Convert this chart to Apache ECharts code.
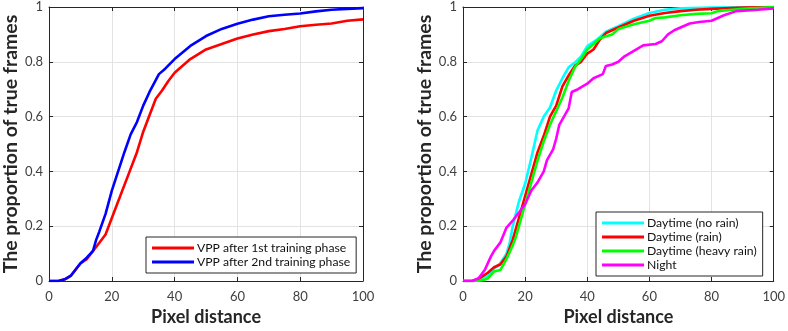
<!DOCTYPE html>
<html>
<head>
<meta charset="utf-8">
<script src="https://cdn.jsdelivr.net/npm/echarts@6/dist/echarts.min.js"></script>
<style>
html,body{margin:0;padding:0;background:#fff;}
#c{width:788px;height:331px;}
</style>
</head>
<body>
<div id="c"></div>
<script>
// ---- Data ----
const xTicks = [0, 20, 40, 60, 80, 100];
const yTicks = [0, 0.2, 0.4, 0.6, 0.8, 1];

const leftNames = ['VPP after 1st training phase', 'VPP after 2nd training phase'];
const rightNames = ['Daytime (no rain)', 'Daytime (rain)', 'Daytime (heavy rain)', 'Night'];

const vpp1 = [[0,0],[3,0],[5,0.006],[7,0.02],[10,0.064],[12,0.08],[15,0.124],[18,0.17],[20,0.23],[22,0.29],[25,0.38],[28,0.47],[30,0.545],[32,0.605],[34,0.665],[36,0.695],[38,0.73],[40,0.76],[45,0.81],[50,0.845],[55,0.865],[60,0.885],[65,0.9],[70,0.912],[75,0.92],[80,0.93],[85,0.935],[90,0.94],[95,0.95],[100,0.955]];
const vpp2 = [[0,0],[3,0],[5,0.006],[7,0.02],[10,0.065],[12,0.085],[14,0.11],[15,0.15],[16,0.18],[18,0.245],[20,0.33],[22,0.4],[24,0.47],[26,0.535],[28,0.58],[30,0.64],[32,0.69],[35,0.755],[37,0.775],[40,0.81],[45,0.858],[50,0.894],[55,0.92],[60,0.939],[65,0.954],[70,0.966],[75,0.972],[80,0.976],[85,0.984],[90,0.99],[95,0.993],[100,0.996]];

const dayNoRain = [[0,0],[3,0],[5,0.006],[8,0.02],[10,0.045],[12,0.065],[14,0.1],[15,0.137],[16,0.2],[17,0.245],[18,0.29],[20,0.355],[22,0.45],[24,0.55],[26,0.6],[28,0.633],[30,0.695],[32,0.74],[34,0.78],[36,0.797],[38,0.82],[40,0.857],[43,0.88],[46,0.91],[50,0.93],[55,0.957],[60,0.978],[65,0.99],[70,0.995],[80,0.998],[100,1]];
const dayRain = [[0,0],[3,0],[5,0.008],[8,0.03],[10,0.05],[12,0.06],[14,0.09],[16,0.15],[18,0.23],[20,0.31],[22,0.39],[24,0.47],[26,0.53],[28,0.6],[30,0.64],[32,0.71],[34,0.75],[36,0.785],[38,0.8],[40,0.83],[42,0.845],[44,0.88],[46,0.905],[48,0.915],[50,0.925],[55,0.95],[60,0.968],[65,0.978],[70,0.985],[75,0.99],[80,0.993],[90,0.998],[100,1]];
const dayHeavyRain = [[0,0],[5,0],[7,0.005],[8,0.01],[10,0.035],[12,0.04],[14,0.08],[16,0.13],[17,0.16],[18,0.2],[20,0.28],[22,0.36],[24,0.44],[26,0.51],[28,0.57],[30,0.62],[32,0.67],[34,0.73],[36,0.78],[38,0.81],[40,0.845],[42,0.865],[44,0.885],[46,0.893],[48,0.9],[50,0.92],[55,0.937],[60,0.95],[62,0.96],[65,0.962],[70,0.97],[75,0.975],[80,0.977],[82,0.985],[85,0.988],[90,0.993],[100,1]];
const night = [[0,0],[3,0],[5,0.01],[7,0.04],[9,0.09],[10,0.11],[12,0.14],[14,0.195],[16,0.22],[18,0.25],[20,0.28],[22,0.33],[24,0.36],[26,0.4],[27,0.44],[29,0.48],[30,0.52],[31,0.57],[32,0.59],[34,0.63],[35,0.69],[37,0.7],[40,0.72],[42,0.74],[45,0.755],[46,0.785],[48,0.79],[50,0.8],[52,0.82],[55,0.84],[58,0.86],[62,0.865],[64,0.875],[66,0.9],[68,0.915],[70,0.925],[73,0.94],[76,0.945],[80,0.95],[82,0.96],[84,0.97],[88,0.985],[95,0.99],[100,0.995]];

// ---- Chart ----
const FONT = 'Lato';
const axisColor = '#262626';
const chart = echarts.init(document.getElementById('c'), null, {renderer: 'canvas'});

function xAxis(grid, top) {
  return {
    type: 'value', gridIndex: grid, min: xTicks[0], max: xTicks[xTicks.length-1], interval: 20,
    position: top ? 'top' : 'bottom',
    name: top ? '' : 'Pixel distance', nameLocation: 'middle', nameGap: 27,
    nameTextStyle: {fontFamily: FONT, fontWeight: 'bold', fontSize: 18, color: axisColor},
    axisLine: {show: true, onZero: false, lineStyle: {color: axisColor, width: 1}},
    axisTick: {show: true, inside: true, length: 4, lineStyle: {color: axisColor}},
    axisLabel: {show: !top, fontFamily: FONT, fontSize: 13, color: '#404040', margin: 9},
    splitLine: {show: !top, lineStyle: {color: '#e3e3e3', width: 1}}
  };
}
function yAxis(grid, right) {
  return {
    type: 'value', gridIndex: grid, min: yTicks[0], max: yTicks[yTicks.length-1], interval: 0.2,
    position: right ? 'right' : 'left',
    name: right ? '' : 'The proportion of true frames', nameLocation: 'middle', nameGap: 27,
    nameTextStyle: {fontFamily: FONT, fontWeight: 'bold', fontSize: 19.5, color: axisColor},
    axisLine: {show: true, onZero: false, lineStyle: {color: axisColor, width: 1}},
    axisTick: {show: true, inside: true, length: 4, lineStyle: {color: axisColor}},
    axisLabel: {show: !right, fontFamily: FONT, fontSize: 13, color: '#404040', margin: 6},
    splitLine: {show: !right, lineStyle: {color: '#e3e3e3', width: 1}}
  };
}
function line(name, data, color, xi, yi) {
  return {type: 'line', name: name, data: data, xAxisIndex: xi, yAxisIndex: yi,
    showSymbol: false, symbol: 'none', animation: false,
    lineStyle: {color: color, width: 2.6}, itemStyle: {color: color}};
}
const legendBase = {
  orient: 'vertical', icon: 'rect', itemWidth: 42, itemHeight: 3, itemGap: 2,
  backgroundColor: '#fff', borderColor: axisColor, borderWidth: 1, borderRadius: 0,
  padding: [5, 6, 5, 6], selectedMode: false,
  textStyle: {fontFamily: FONT, fontSize: 12.2, color: '#111', padding: [0, 0, 0, -2]}
};

chart.setOption({
  animation: false,
  backgroundColor: '#fff',
  grid: [
    {left: 49, top: 7, width: 314, height: 277},
    {left: 463, top: 7, width: 312, height: 277}
  ],
  xAxis: [xAxis(0, false), xAxis(0, true), xAxis(1, false), xAxis(1, true)],
  yAxis: [yAxis(0, false), yAxis(0, true), yAxis(1, false), yAxis(1, true)],
  legend: [
    Object.assign({}, legendBase, {data: leftNames, left: 146, top: 237}),
    Object.assign({}, legendBase, {data: rightNames, left: 596, top: 212})
  ],
  series: [
    line(leftNames[0], vpp1, '#ff0000', 0, 0),
    line(leftNames[1], vpp2, '#0000ff', 0, 0),
    line(rightNames[0], dayNoRain, '#00ffff', 2, 2),
    line(rightNames[1], dayRain, '#ff0000', 2, 2),
    line(rightNames[2], dayHeavyRain, '#00ff00', 2, 2),
    line(rightNames[3], night, '#ff00ff', 2, 2)
  ]
});
</script>
</body>
</html>
